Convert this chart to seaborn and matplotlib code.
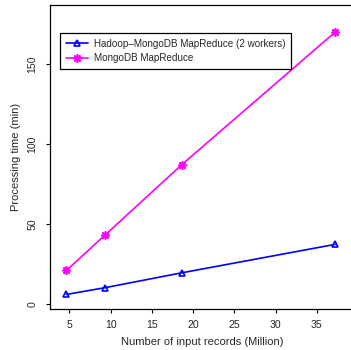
import matplotlib
matplotlib.use("Agg")
import matplotlib.pyplot as plt
import seaborn as sns
import pandas as pd

records = [4.65, 9.3, 18.6, 37.2]
hadoop_time = [6.0, 10.2, 19.5, 37.3]
mongo_time = [21.0, 43.0, 87.0, 170.0]
series_names = ["Hadoop\u2013MongoDB MapReduce (2 workers)", "MongoDB MapReduce"]
x_ticks = [5, 10, 15, 20, 25, 30, 35]
y_ticks = [0, 50, 100, 150]

sns.set_style("ticks")
plt.rcParams['font.family'] = ['Liberation Sans', 'DejaVu Sans']

fig = plt.figure(figsize=(3.51, 3.50), dpi=100)
W, H = 351, 350
L, R_, T, B = 50, 354, 5, 309
ax = fig.add_axes([L / W, (H - B) / H, (R_ - L) / W, (B - T) / H])

df_h = pd.DataFrame({"x": records, "y": hadoop_time})
df_m = pd.DataFrame({"x": records, "y": mongo_time})

sns.lineplot(data=df_h, x="x", y="y", ax=ax, color="#0000ff", marker="^",
             markersize=4.8, markerfacecolor="none", markeredgecolor="#0000ff",
             markeredgewidth=1.2, linewidth=1.2, label=series_names[0])
sns.lineplot(data=df_m, x="x", y="y", ax=ax, color="#ff00ff", marker=(8, 2, 0),
             markersize=6, markeredgecolor="#ff00ff", markeredgewidth=1.2,
             linewidth=1.2, label=series_names[1])

ax.set_xlim(2.66, 39.5)
ax.set_ylim(-3.1, 187)
ax.set_xticks(x_ticks)
ax.set_yticks(y_ticks)
ax.set_xticklabels([str(v) for v in x_ticks], fontsize=7.6)
ax.set_yticklabels([str(v) for v in y_ticks], fontsize=7.6, rotation=90, va="center")
ax.tick_params(axis="both", direction="out", length=3, width=0.8, color="black")
ax.tick_params(axis="x", pad=5)
ax.tick_params(axis="y", pad=6)
ax.set_xlabel("Number of input records (Million)", fontsize=8, labelpad=5)
ax.set_ylabel("Processing time (min)", fontsize=8, labelpad=5)
for s in ax.spines.values():
    s.set_visible(True)
    s.set_color("black")
    s.set_linewidth(0.9)

leg = ax.legend(loc="upper left", bbox_to_anchor=((60 - L) / (R_ - L), 1 - (33 - T) / (B - T)),
                fontsize=7.1, frameon=True, fancybox=False, borderaxespad=0,
                handlelength=2.2, handletextpad=0.6, labelspacing=0.45,
                borderpad=0.6)
leg.get_frame().set_edgecolor("black")
leg.get_frame().set_linewidth(0.9)
leg.get_frame().set_alpha(1)

fig.savefig("out.png", dpi=100)
